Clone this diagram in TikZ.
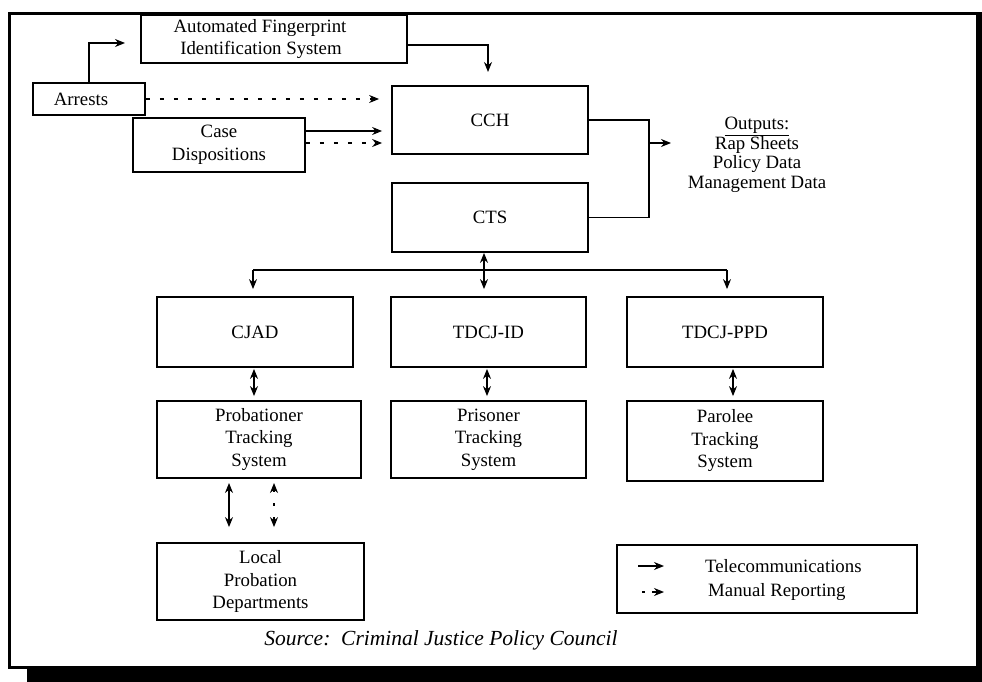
\documentclass[tikz,border=0pt]{standalone}
\usepackage{fontspec}
\setmainfont{Liberation Serif}
\usetikzlibrary{arrows.meta,calc}
\newcommand\boxfont{\fontsize{18.8}{22.5}\selectfont}
\newcommand\srcfont{\fontsize{21.5}{24}\selectfont\itshape}
\begin{document}
\begin{tikzpicture}[x=1pt,y=-1pt,
  box/.style={draw, line width=1.8pt, inner sep=0pt, align=center, font=\boxfont},
  conn/.style={line width=1.2pt},
  tele/.style={line width=1.2pt, -{Stealth[length=10pt,width=8pt]}},
  manual/.style={line width=1.2pt, dash pattern=on 4pt off 10pt, -{Stealth[length=10pt,width=8pt]}},
  dbl/.style={line width=1.2pt, {Stealth[length=10pt,width=8pt]}-{Stealth[length=10pt,width=8pt]}},
  dbldash/.style={line width=1.2pt, dash pattern=on 3pt off 11pt, {Stealth[length=10pt,width=8pt]}-{Stealth[length=10pt,width=8pt]}},
  txt/.style={font=\boxfont, inner sep=0pt}]
\useasboundingbox (0,0) rectangle (982,682);
% frame and shadow
\draw[line width=3pt] (9,14) rectangle (978,667);
\fill (976,12) rectangle (982,669);
\fill (27,668) rectangle (982,682);

% boxes
\node[box, line width=2.6pt, minimum width=266, minimum height=48] (afis) at (274,39)
  {\raisebox{-3pt}{Automated Fingerprint}\hspace*{28pt}\\\raisebox{-3pt}{Identification System}\hspace*{26pt}};
\node[box, minimum width=112, minimum height=32] (arrests) at (89,99) {Arrests\hspace*{16pt}};
\node[box, minimum width=172, minimum height=54] (case) at (219,145) {Case\\Dispositions};
\node[box, minimum width=196, minimum height=68] (cch) at (490,120) {CCH};
\node[box, minimum width=196, minimum height=69] (cts) at (490,217.5) {CTS};
\node[box, minimum width=196, minimum height=70] (cjad) at (255,332) {CJAD};
\node[box, minimum width=195, minimum height=70] (tdcjid) at (488.5,332) {TDCJ-ID};
\node[box, minimum width=196, minimum height=70] (ppd) at (725,332) {TDCJ-PPD};
\node[box, minimum width=204, minimum height=77] (prob) at (259,439.5) {Probationer\\Tracking\\System};
\node[box, minimum width=195, minimum height=77] (pris) at (488.5,439.5) {Prisoner\\Tracking\\System};
\node[box, minimum width=196, minimum height=80] (parolee) at (725,441) {Parolee\\Tracking\\System};
\node[box, minimum width=207, minimum height=77] (local) at (260.5,581.5) {Local\\Probation\\Departments};
\node[box, minimum width=300, minimum height=68] (legend) at (767,579) {};

% outputs
\node[txt, align=center, font=\fontsize{18.8}{19.5}\selectfont] (outputs) at (757,155)
  {\underline{Outputs:}\\Rap Sheets\\Policy Data\\Management Data};

% source
\node[font=\srcfont, inner sep=0pt] (src) at (441,640) {Source:\ \ Criminal Justice Policy Council};

% Arrests -> AFIS
\coordinate (afisin) at (125,43);
\draw[tele] (arrests.north) |- (afisin);
% AFIS -> CCH
\coordinate (cchin) at (488,72);
\draw[tele] ([yshift=-6pt]afis.east) -| (cchin);
% Arrests -> CCH (manual)
\draw[manual, shorten >=12pt] (arrests.east) -- (arrests.east -| cch.west);
% Case -> CCH
\coordinate (c1) at ([yshift=14pt]case.east);
\coordinate (c2) at ([yshift=2pt]case.east);
\draw[tele, shorten >=9pt] (c1) -- (c1 -| cch.west);
\draw[manual, shorten >=9pt] (c2) -- (c2 -| cch.west);
% CCH/CTS -> outputs
\draw[conn] (cch.east) -- ++(60,0) |- (cts.east);
\coordinate (ob) at (649,143);
\coordinate (oe) at (671,143);
\draw[tele] (ob) -- (oe);

% CTS -> row 1
\coordinate (cs) at ([xshift=-6pt]cts.south);
\draw[dbl, shorten >=7pt] (cs) -- (cs |- tdcjid.north);
\coordinate (busL) at (253,270);
\coordinate (busR) at (727,270);
\draw[conn] (busL) -- (busR);
\draw[tele, shorten >=7pt] (busL) -- (busL |- cjad.north);
\draw[tele, shorten >=7pt] (busR) -- (busR |- ppd.north);

% row 1 <-> row 2
\coordinate (r1) at ([xshift=-1pt]cjad.south);
\draw[dbl, shorten <=1pt, shorten >=4pt] (r1) -- (r1 |- prob.north);
\coordinate (r2) at ([xshift=-1.5pt]tdcjid.south);
\draw[dbl, shorten <=1pt, shorten >=4pt] (r2) -- (r2 |- pris.north);
\coordinate (r3) at ([xshift=8pt]ppd.south);
\draw[dbl, shorten <=1pt, shorten >=4pt] (r3) -- (r3 |- parolee.north);

% Probationer <-> Local
\coordinate (p1) at (229,478);
\coordinate (p2) at (274,478);
\draw[dbl, shorten <=5pt, shorten >=15pt] (p1) -- (p1 |- local.north);
\draw[dbldash, shorten <=5pt, shorten >=15pt] (p2) -- (p2 |- local.north);

% legend
\coordinate (l1a) at (638,566);
\coordinate (l1b) at (664,566);
\coordinate (l2a) at (642,592);
\coordinate (l2b) at (664,592);
\draw[tele] (l1a) -- (l1b);
\draw[line width=1.2pt] (l2a) -- ++(3,0);
\draw[tele] ([xshift=-12pt]l2b) -- (l2b);
\node[txt, anchor=west] (t1) at (705,566) {Telecommunications};
\node[txt, anchor=west] (t2) at (708,592) {Manual Reporting};
\end{tikzpicture}
\end{document}
